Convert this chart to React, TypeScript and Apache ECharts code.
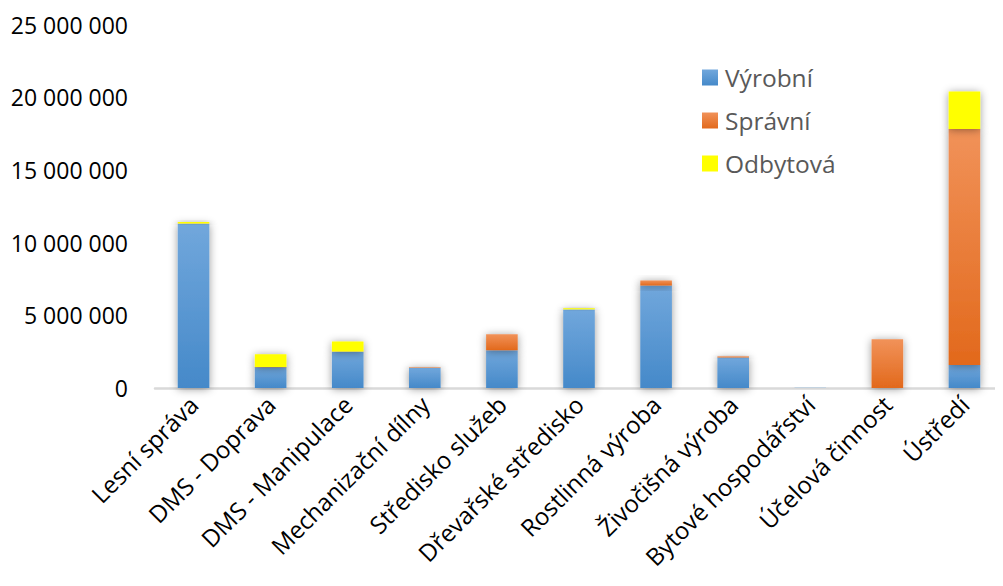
import React, { useEffect, useRef } from "react";
import * as echarts from "echarts";

const categories = [
  "Lesní správa",
  "DMS - Doprava",
  "DMS - Manipulace",
  "Mechanizační dílny",
  "Středisko služeb",
  "Dřevařské středisko",
  "Rostlinná výroba",
  "Živočišná výroba",
  "Bytové hospodářství",
  "Účelová činnost",
  "Ústředí",
];
const vyrobni = [11300000, 1420000, 2490000, 1390000, 2600000, 5410000, 7050000, 2100000, 20000, 0, 1580000];
const spravni = [20000, 30000, 30000, 40000, 1100000, 0, 350000, 80000, 0, 3360000, 16250000];
const odbytova = [100000, 880000, 680000, 0, 0, 80000, 0, 0, 0, 0, 2580000];
const yTicks = [0, 5000000, 10000000, 15000000, 20000000, 25000000];

const FONT = "'Open Sans', 'Noto Sans', sans-serif";

function grad(top: string, bottom: string) {
  return new echarts.graphic.LinearGradient(0, 0, 0, 1, [
    { offset: 0, color: top },
    { offset: 1, color: bottom },
  ]);
}

export default function App() {
  const ref = useRef<HTMLDivElement>(null);
  useEffect(() => {
    if (!ref.current) return;
    const chart = echarts.init(ref.current, undefined, { renderer: "svg" });
    const shadow = { shadowColor: "rgba(0,0,0,0.4)", shadowBlur: 9, shadowOffsetX: 0, shadowOffsetY: 1 };
    const fmt = (v: number) => String(Math.round(v)).replace(/\B(?=(\d{3})+(?!\d))/g, " ");
    chart.setOption({
      animation: false,
      backgroundColor: "#ffffff",
      textStyle: { fontFamily: FONT },
      grid: { left: 155, right: -14, top: 24.7, bottom: 198, containLabel: false },
      legend: {
        orient: "vertical",
        left: 702,
        top: 65,
        padding: 0,
        itemWidth: 16,
        itemHeight: 16,
        itemGap: 18,
        icon: "rect",
        textStyle: { fontSize: 24.5, color: "#595959", fontFamily: FONT, padding: [0, 0, 0, 2] },
        data: ["Výrobní", "Správní", "Odbytová"],
      },
      xAxis: {
        type: "category",
        data: categories,
        axisLine: { show: true, lineStyle: { color: "#d9d9d9", width: 2.5 } },
        axisTick: { show: false },
        axisLabel: {
          rotate: 45,
          interval: 0,
          fontSize: 24,
          color: "#000000",
          fontFamily: FONT,
          margin: 12,
        },
      },
      yAxis: {
        type: "value",
        min: 0,
        max: 25000000,
        interval: 5000000,
        splitLine: { show: false },
        axisLine: { show: false },
        axisTick: { show: false },
        axisLabel: {
          fontSize: 23,
          color: "#000000",
          fontFamily: FONT,
          margin: 27,
          formatter: (v: number) => (yTicks.includes(v) ? fmt(v) : ""),
        },
      },
      series: [
        {
          name: "Výrobní",
          type: "bar",
          stack: "total",
          barWidth: "41%",
          data: vyrobni,
          itemStyle: { color: grad("#71a7dc", "#4589c9"), ...shadow },
        },
        {
          name: "Správní",
          type: "bar",
          stack: "total",
          data: spravni,
          itemStyle: { color: grad("#f19259", "#e2691c"), ...shadow },
        },
        {
          name: "Odbytová",
          type: "bar",
          stack: "total",
          data: odbytova,
          itemStyle: { color: "#ffff00", ...shadow },
        },
      ],
    });
    return () => chart.dispose();
  }, []);
  return <div ref={ref} style={{ width: 1003, height: 586, margin: -8 }} />;
}
